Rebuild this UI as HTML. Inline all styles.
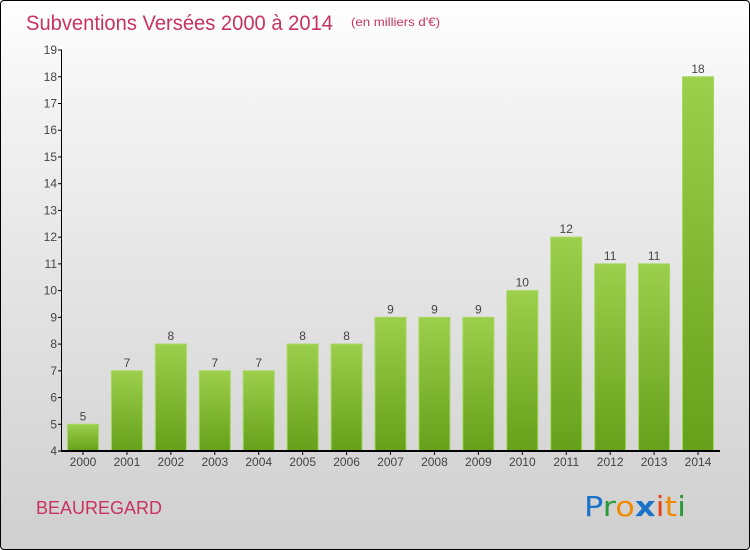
<!DOCTYPE html>
<html><head><meta charset="utf-8"><style>
body{margin:0}
#c{width:748px;height:548px;border:1px solid #000;border-radius:4px;background:linear-gradient(#fff,#f2f2f2 20%,#dcdcdc 70%,#cfcfcf);position:relative;overflow:hidden;font-family:"Liberation Sans",sans-serif}
</style></head><body>
<div id="c">
<svg width="750" height="550" style="position:absolute;left:-1px;top:-1px">
<text x="26" y="30" font-size="21" fill="#c8335f" textLength="307" lengthAdjust="spacingAndGlyphs">Subventions Versées 2000 à 2014</text>
<text x="351" y="26" font-size="12" fill="#c8335f" textLength="89" lengthAdjust="spacingAndGlyphs">(en milliers d'€)</text>
<text x="36" y="514" font-size="18" fill="#c8335f">BEAUREGARD</text>
<g font-size="28" font-family="'DejaVu Sans',sans-serif">
<text x="584" y="516" fill="#1a73c8" textLength="102" lengthAdjust="spacingAndGlyphs">P<tspan fill="#2a9a3a">r</tspan><tspan fill="#f08a00">o</tspan><tspan fill="#1a73c8" font-weight="bold">x</tspan><tspan fill="#e8401a">i</tspan><tspan fill="#f08a00">t</tspan><tspan fill="#2a9a3a">i</tspan></text></g>
<defs><linearGradient id="g" x1="0" y1="0" x2="0" y2="1"><stop offset="0" stop-color="#9ccf4c"/><stop offset="1" stop-color="#66a01a"/></linearGradient></defs>
<g id="plot"></g>
</svg></div>
<script>
const years=["2000","2001","2002","2003","2004","2005","2006","2007","2008","2009","2010","2011","2012","2013","2014"];
const values=[5,7,8,7,7,8,8,9,9,9,10,12,11,11,18];
const yTicks=[4,5,6,7,8,9,10,11,12,13,14,15,16,17,18,19];
const NS="http://www.w3.org/2000/svg",p=document.getElementById('plot');
const y=v=>451-(v-4)*26.73, x=i=>83+i*43.93;
function el(t,a,txt){const e=document.createElementNS(NS,t);for(const k in a)e.setAttribute(k,a[k]);if(txt!=null)e.textContent=txt;p.appendChild(e);return e;}
values.forEach((v,i)=>{
const b=el('rect',{x:x(i)-15.5,y:y(v),width:31,height:y(4)-y(v),fill:'url(#g)',stroke:'#a6d860','stroke-width':1});


const l=el('text',{x:x(i),y:y(v)-4,'font-size':12,fill:'#444','text-anchor':'middle'},v);


const t=el('text',{x:x(i),y:466,'font-size':12,fill:'#444','text-anchor':'middle'},years[i]);


el('line',{x1:x(i),x2:x(i),y1:451,y2:455,stroke:'#000'});
});
yTicks.forEach(v=>{
el('line',{x1:58,x2:62,y1:y(v),y2:y(v),stroke:'#000'});
const t=el('text',{x:57,y:y(v)+4,'font-size':12,fill:'#444','text-anchor':'end'},v);


});
const ya=el('line',{x1:61.5,x2:61.5,y1:50,y2:451,stroke:'#000'});


const xa=el('line',{x1:61,x2:720,y1:451,y2:451,stroke:'#000','stroke-width':2});


</script>
</body></html>
